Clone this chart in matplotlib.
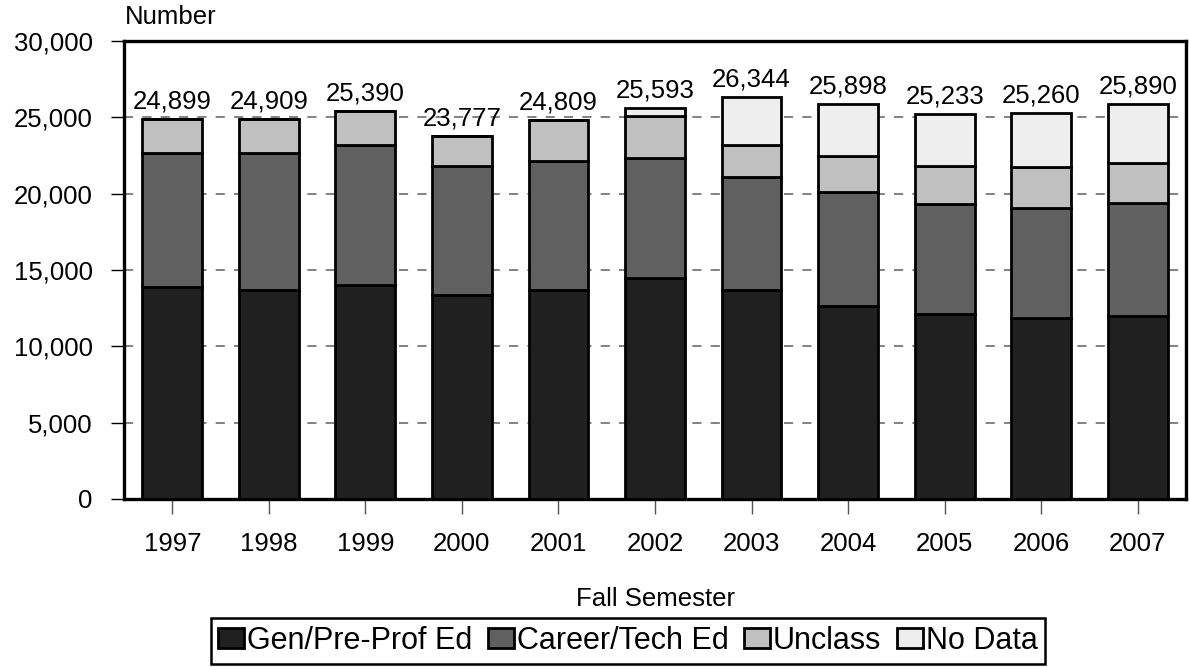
import matplotlib
matplotlib.use('Agg')
import matplotlib.pyplot as plt
import numpy as np

matplotlib.rc('font', family=['Liberation Sans', 'DejaVu Sans'], size=18.5)

# enrollment by program type, fall semester
years = ['1997', '1998', '1999', '2000', '2001', '2002', '2003', '2004', '2005', '2006', '2007']
gen_ed = [13890, 13720, 14050, 13330, 13680, 14460, 13720, 12610, 12110, 11830, 12000]
career_ed = [8770, 8940, 9160, 8460, 8460, 7900, 7370, 7500, 7240, 7260, 7390]
unclass = [2239, 2249, 2180, 1987, 2669, 2710, 2080, 2360, 2440, 2660, 2650]
no_data = [0, 0, 0, 0, 0, 523, 3174, 3428, 3443, 3510, 3850]
totals = [24899, 24909, 25390, 23777, 24809, 25593, 26344, 25898, 25233, 25260, 25890]

series = [
    ('Gen/Pre-Prof Ed', gen_ed, '#202020'),
    ('Career/Tech Ed', career_ed, '#606060'),
    ('Unclass', unclass, '#c0c0c0'),
    ('No Data', no_data, '#eeeeee'),
]

fig = plt.figure(figsize=(11.89, 6.67), dpi=100)
ax = fig.add_axes([124/1189, 1 - 499/667, (1186 - 124)/1189, (499 - 41)/667])

x = np.arange(len(years))
bottom = np.zeros(len(years))
for name, vals, color in series:
    vals = np.array(vals, dtype=float)
    ax.bar(x, vals, 0.62, bottom=bottom, color=color, edgecolor='black',
           linewidth=2.0, label=name, zorder=3)
    bottom += vals

for xi, t in zip(x, totals):
    ax.annotate('{:,}'.format(t), (xi, t), xytext=(0, 4), textcoords='offset points',
                ha='center', va='bottom', zorder=4)

ax.set_xlim(-0.5, len(years) - 0.5)
ax.set_ylim(0, 30000)
ax.set_yticks(np.arange(0, 30001, 5000))
ax.set_yticklabels(['{:,}'.format(v) for v in range(0, 30001, 5000)])
ax.set_xticks(x)
ax.set_xticklabels(years)

ax.yaxis.grid(True, linestyle=(0, (6, 6)), color='#606060', linewidth=1.1, zorder=0)
ax.set_axisbelow(True)

for s in ax.spines.values():
    s.set_linewidth(2.4)
ax.tick_params(axis='y', direction='out', length=9.5, width=1, color='black', pad=13)
ax.tick_params(axis='x', direction='out', length=11, width=1, color='#555555', pad=13)

ax.set_xlabel('Fall Semester', labelpad=22)
fig.text(125/1189, 1 - 17/667, 'Number', ha='left', va='center')

leg = fig.legend(loc='center', bbox_to_anchor=(628/1189, 1 - 641/667), ncol=4,
                 frameon=True, fancybox=False, edgecolor='black', framealpha=1,
                 fontsize=22, handlelength=0.85, handleheight=0.65, handletextpad=0.1,
                 columnspacing=0.5, borderpad=0.25, borderaxespad=0)
leg.get_frame().set_linewidth(1.8)

fig.savefig('out.png', dpi=100)
